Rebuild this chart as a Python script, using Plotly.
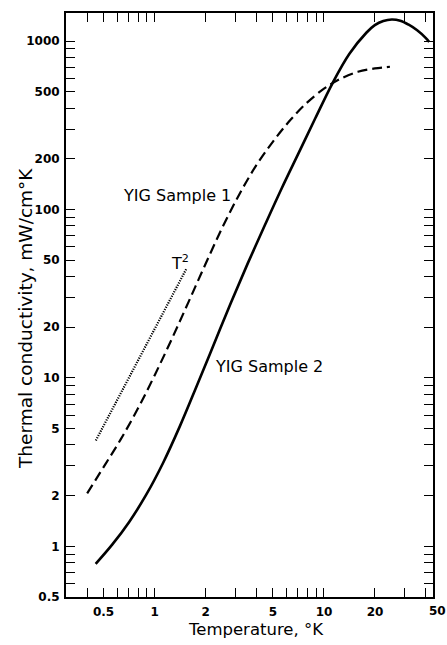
import plotly.graph_objects as go
import numpy as np

# Sample 2 (solid) — temperature (K), conductivity (mW/cm K)
s2_T = [0.449, 0.562, 0.708, 0.891, 1.122, 1.413, 1.778, 2.239, 2.818, 3.548, 4.467, 5.623, 7.079,
        8.913, 11.22, 14.13, 17.78, 19.95, 22.39, 25.12, 28.18, 31.62, 35.48, 39.81, 41.8]
s2_k = [0.787, 1.023, 1.396, 2.018, 3.126, 5.19, 9.02, 15.85, 27.9, 47.9, 80.4, 133.4, 216.3,
        350.8, 562.3, 841.4, 1122, 1245, 1318, 1346, 1324, 1253, 1161, 1047, 989]

# Sample 1 (dashed)
s1_T = [0.400, 0.501, 0.631, 0.794, 1.000, 1.259, 1.585, 1.995, 2.512, 3.162, 3.981, 5.012, 6.310,
        7.943, 10.0, 11.22, 12.59, 15.85, 19.95, 24.5]
s1_k = [2.061, 2.965, 4.315, 6.531, 10.35, 16.9, 28.2, 47.3, 78.2, 123.0, 182.8, 254.1, 338.8,
        431.5, 522.4, 562.3, 599.8, 657.7, 688.7, 704.7]

# T^2 reference line (dotted)
t2_T = [0.45, 1.55]
t2_k = [4.25, 45]

x_ticks = [0.4, 0.5, 0.6, 0.7, 0.8, 0.9, 1, 2, 3, 4, 5, 6, 7, 8, 9, 10, 20, 30, 40]
x_labels = {0.5: "0.5", 1: "1", 2: "2", 5: "5", 10: "10", 20: "20"}
y_ticks = [0.5, 0.6, 0.7, 0.8, 0.9, 1, 2, 3, 4, 5, 6, 7, 8, 9, 10, 20, 30, 40, 50, 60, 70, 80, 90,
           100, 200, 300, 400, 500, 600, 700, 800, 900, 1000]
y_labels = {0.5: "0.5", 1: "1", 2: "2", 5: "5", 10: "10", 20: "20", 50: "50", 100: "100",
            200: "200", 500: "500", 1000: "1000"}

FONT = "DejaVu Sans"

fig = go.Figure()
fig.add_trace(go.Scatter(x=s2_T, y=s2_k, mode="lines",
                         line=dict(color="black", width=2.6, shape="spline", smoothing=1.0),
                         showlegend=False))
fig.add_trace(go.Scatter(x=s1_T, y=s1_k, mode="lines",
                         line=dict(color="black", width=2.2, dash="10px,5px", shape="spline", smoothing=1.0),
                         showlegend=False))
fig.add_trace(go.Scatter(x=t2_T, y=t2_k, mode="lines", line=dict(color="black", width=2.2, dash="1.2px,1.3px"),
                         showlegend=False))

tickfont = dict(family=FONT, size=12, color="black", weight=700)
axis_common = dict(type="log", showgrid=False, zeroline=False, showline=True, linecolor="black",
                   linewidth=2, ticks="inside", ticklen=9, tickwidth=1.3, tickcolor="black",
                   mirror="allticks", tickfont=tickfont)

fig.update_xaxes(**axis_common, range=[np.log10(0.30), np.log10(44)], tickmode="array", tickvals=x_ticks,
                 ticktext=[x_labels.get(v, "") for v in x_ticks], ticklabelstandoff=3)
fig.update_yaxes(**axis_common, range=[np.log10(0.5), np.log10(1470)], tickmode="array", tickvals=y_ticks,
                 ticktext=[y_labels.get(v, "") for v in y_ticks], ticklabelstandoff=2)

title_font = dict(family=FONT, size=16.5, color="black")
fig.add_annotation(x=0.518, y=0, xref="paper", yref="paper", text="Temperature, °K", showarrow=False,
                   xanchor="center", yanchor="middle", yshift=-32, font=title_font)
fig.add_annotation(x=0, y=0.476, xref="paper", yref="paper", text="Thermal conductivity, mW/cm°K",
                   showarrow=False, textangle=-90, xanchor="center", yanchor="middle", xshift=-41,
                   font=dict(family=FONT, size=18.5, color="black"))

fig.add_annotation(x=1.0, y=0, xref="paper", yref="paper", text="50", showarrow=False,
                   xanchor="center", yanchor="top", xshift=4, yshift=-5, font=tickfont)

ann_font = dict(family=FONT, size=16, color="black")
fig.add_annotation(x=np.log10(1.355), y=np.log10(122), text="YIG Sample 1", showarrow=False,
                   font=ann_font, xanchor="center", yanchor="middle")
fig.add_annotation(x=np.log10(1.417), y=np.log10(48.7), text="T<sup>2</sup>", showarrow=False,
                   font=ann_font, xanchor="center", yanchor="middle")
fig.add_annotation(x=np.log10(4.74), y=np.log10(11.75), text="YIG Sample 2", showarrow=False,
                   font=ann_font, xanchor="center", yanchor="middle")

fig.update_layout(width=447, height=645, margin=dict(l=66, r=14, t=11, b=48),
                  plot_bgcolor="white", paper_bgcolor="white")

fig.write_html("out.html")
